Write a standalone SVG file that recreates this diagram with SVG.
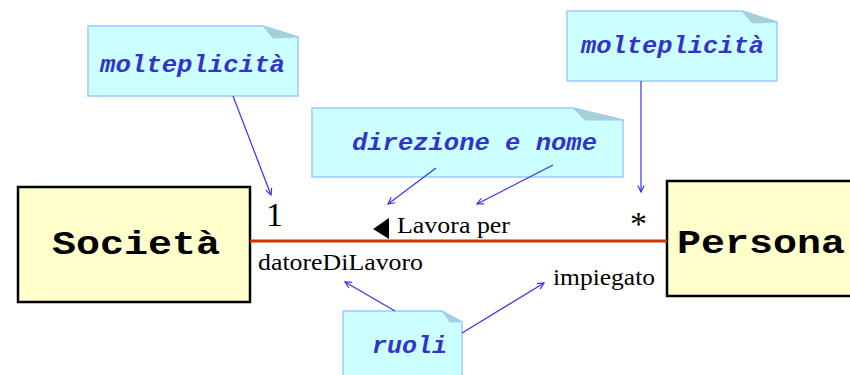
<svg xmlns="http://www.w3.org/2000/svg" width="850" height="375" viewBox="0 0 850 375">
<defs>
<style>
.note{fill:#ccffff;stroke:#99ccff;stroke-width:1.5}
.fold{fill:#a8d0d0;stroke:#99ccff;stroke-width:1}
.ntxt{font-family:"Liberation Mono",monospace;font-weight:bold;font-style:italic;font-size:23px;fill:#3333cc}
.cls{fill:#ffffcc;stroke:#000;stroke-width:2.5}
.ctxt{font-family:"Liberation Mono",monospace;font-weight:bold;font-size:34px;fill:#000}
.lbl{font-family:"Liberation Serif",serif;font-size:23px;fill:#000}
.big{font-family:"Liberation Serif",serif;font-size:34px;fill:#000}
.ptr{stroke:#3333ee;stroke-width:1.2;fill:none;marker-end:url(#ah)}
</style>
<marker id="ah" viewBox="0 0 10 10" refX="9" refY="5" markerWidth="8" markerHeight="8" orient="auto" markerUnits="userSpaceOnUse">
<path d="M1,1 L9,5 L1,9" fill="none" stroke="#3333ee" stroke-width="1.5"/>
</marker>
</defs>
<rect width="850" height="375" fill="#fff"/>

<g id="societa">
<rect class="cls" x="18" y="187" width="232" height="115"/>
<text class="ctxt" x="52" y="254" textLength="168" lengthAdjust="spacingAndGlyphs">Società</text>
</g>

<g id="persona">
<rect class="cls" x="667" y="181" width="190" height="115"/>
<text class="ctxt" x="677" y="253" textLength="168" lengthAdjust="spacingAndGlyphs">Persona</text>
</g>

<g id="association">
<line x1="250" y1="241" x2="667" y2="241" stroke="#cc3300" stroke-width="3"/>
<polygon points="373,229 389,218 389,239" fill="#000"/>
<text class="lbl" x="397" y="233" textLength="113" lengthAdjust="spacingAndGlyphs">Lavora per</text>
<text class="big" x="266" y="226">1</text>
<text class="big" x="630" y="235">*</text>
<text class="lbl" x="258" y="270" textLength="165" lengthAdjust="spacingAndGlyphs">datoreDiLavoro</text>
<text class="lbl" x="553" y="285" textLength="102" lengthAdjust="spacingAndGlyphs">impiegato</text>
</g>

<g id="note-molteplicita-1">
<path class="note" d="M88,26 H263 L298,37 V96 H88 Z"/>
<path class="fold" d="M263,26 L273,38 L298,37 Z"/>
<text class="ntxt" x="100" y="72" textLength="185" lengthAdjust="spacingAndGlyphs">molteplicità</text>
</g>

<g id="note-molteplicita-2">
<path class="note" d="M567,11 H742 L777,22 V81 H567 Z"/>
<path class="fold" d="M742,11 L752,23 L777,22 Z"/>
<text class="ntxt" x="581" y="53" textLength="183" lengthAdjust="spacingAndGlyphs">molteplicità</text>
</g>

<g id="note-direzione">
<path class="note" d="M312,108 H573 L623,120 V177 H312 Z"/>
<path class="fold" d="M573,108 L585,120 L623,120 Z"/>
<text class="ntxt" x="352" y="150" textLength="245" lengthAdjust="spacingAndGlyphs">direzione e nome</text>
</g>

<g id="note-ruoli">
<path class="note" d="M343,311 H442 L462,322 V380 H343 Z"/>
<path class="fold" d="M442,311 L450,322 L462,322 Z"/>
<text class="ntxt" x="372" y="353" textLength="75" lengthAdjust="spacingAndGlyphs">ruoli</text>
</g>

<g id="connectors">
<line class="ptr" x1="233" y1="96" x2="271" y2="195"/>
<line class="ptr" x1="641" y1="81" x2="641" y2="192"/>
<line class="ptr" x1="436" y1="168" x2="388" y2="204"/>
<line class="ptr" x1="553" y1="165" x2="477" y2="204"/>
<line class="ptr" x1="395" y1="311" x2="345" y2="282"/>
<line class="ptr" x1="462" y1="333" x2="544" y2="283"/>
</g>
</svg>
